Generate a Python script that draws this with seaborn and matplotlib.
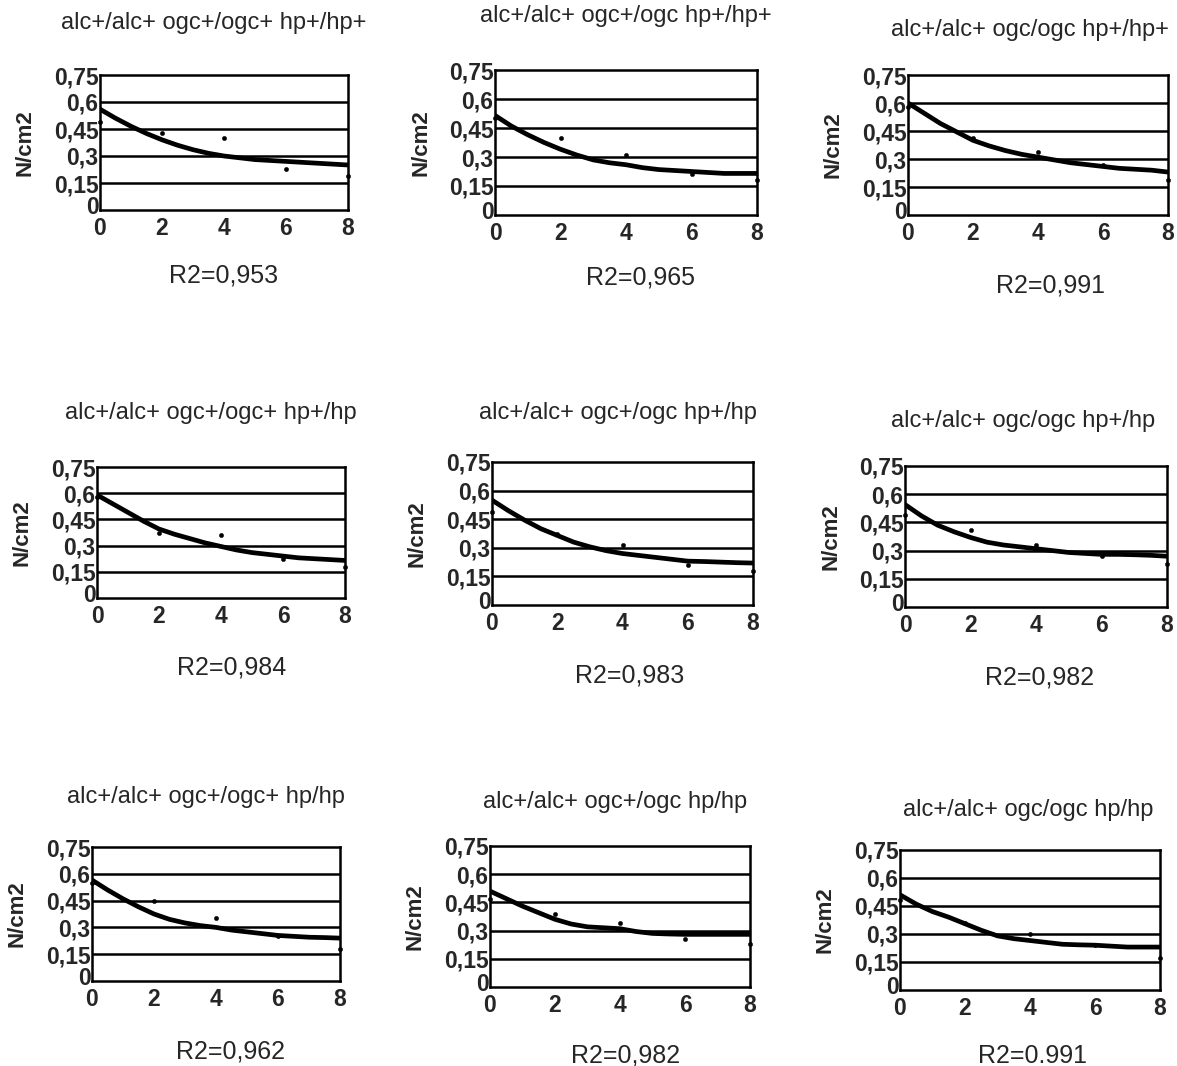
import matplotlib
matplotlib.use("Agg")
import matplotlib.pyplot as plt
import matplotlib.transforms as mtransforms
import seaborn as sns
import pandas as pd

sns.set_style("white")
plt.rcParams['font.family'] = ['Liberation Sans', 'DejaVu Sans']

# ---------------- data ----------------
titles = [
    "alc+/alc+ ogc+/ogc+ hp+/hp+", "alc+/alc+ ogc+/ogc hp+/hp+", "alc+/alc+ ogc/ogc hp+/hp+",
    "alc+/alc+ ogc+/ogc+ hp+/hp", "alc+/alc+ ogc+/ogc hp+/hp", "alc+/alc+ ogc/ogc hp+/hp",
    "alc+/alc+ ogc+/ogc+ hp/hp", "alc+/alc+ ogc+/ogc hp/hp", "alc+/alc+ ogc/ogc hp/hp",
]
r2_labels = ["R2=0,953", "R2=0,965", "R2=0,991",
             "R2=0,984", "R2=0,983", "R2=0,982",
             "R2=0,962", "R2=0,982", "R2=0.991"]

x_points = [0, 2, 4, 6, 8]
points = [
    [0.49, 0.43, 0.40, 0.23, 0.19],
    [0.50, 0.40, 0.31, 0.21, 0.18],
    [0.58, 0.41, 0.34, 0.27, 0.19],
    [0.58, 0.37, 0.36, 0.225, 0.18],
    [0.49, 0.375, 0.315, 0.21, 0.18],
    [0.49, 0.41, 0.33, 0.27, 0.23],
    [0.55, 0.45, 0.35, 0.25, 0.18],
    [0.47, 0.39, 0.34, 0.255, 0.23],
    [0.48, 0.36, 0.30, 0.24, 0.17],
]

# fitted curves, read every 0.5 on the x axis
x_curve = [0, 0.5, 1, 1.5, 2, 2.5, 3, 3.5, 4, 4.5, 5, 5.5, 6, 6.5, 7, 7.5, 8]
curves = [
    [0.56, 0.51, 0.465, 0.425, 0.39, 0.36, 0.335, 0.315, 0.30, 0.29, 0.28, 0.275, 0.27, 0.265, 0.26, 0.255, 0.25],
    [0.515, 0.46, 0.415, 0.375, 0.34, 0.31, 0.285, 0.27, 0.26, 0.245, 0.235, 0.23, 0.225, 0.22, 0.215, 0.215, 0.215],
    [0.60, 0.545, 0.49, 0.445, 0.40, 0.37, 0.345, 0.325, 0.31, 0.295, 0.28, 0.27, 0.26, 0.25, 0.245, 0.24, 0.23],
    [0.59, 0.54, 0.49, 0.44, 0.395, 0.365, 0.34, 0.315, 0.295, 0.275, 0.26, 0.25, 0.24, 0.23, 0.225, 0.22, 0.215],
    [0.55, 0.495, 0.445, 0.40, 0.365, 0.33, 0.305, 0.285, 0.27, 0.26, 0.25, 0.24, 0.23, 0.228, 0.225, 0.222, 0.22],
    [0.545, 0.485, 0.435, 0.40, 0.37, 0.345, 0.33, 0.32, 0.31, 0.30, 0.29, 0.285, 0.28, 0.28, 0.278, 0.275, 0.27],
    [0.565, 0.51, 0.46, 0.415, 0.375, 0.345, 0.325, 0.31, 0.30, 0.285, 0.275, 0.265, 0.255, 0.25, 0.245, 0.243, 0.24],
    [0.51, 0.47, 0.43, 0.395, 0.36, 0.335, 0.32, 0.315, 0.31, 0.295, 0.285, 0.282, 0.28, 0.28, 0.28, 0.28, 0.28],
    [0.51, 0.46, 0.42, 0.39, 0.355, 0.32, 0.29, 0.275, 0.265, 0.255, 0.245, 0.242, 0.24, 0.235, 0.23, 0.23, 0.23],
]

y_ticks = [0, 0.15, 0.3, 0.45, 0.6, 0.75]
y_tick_labels = ["0", "0,15", "0,3", "0,45", "0,6", "0,75"]
x_ticks = [0, 2, 4, 6, 8]
x_tick_labels = ["0", "2", "4", "6", "8"]
y_label = "N/cm2"

# ---------------- layout (pixels) ----------------
W, H = 1177, 1066
axes_px = [  # left, top, right, bottom
    (100, 75, 348, 210), (495, 70, 757, 215), (908, 75, 1168, 215),
    (97, 467, 345, 598), (492, 462, 753, 605), (905, 466, 1167, 607),
    (92, 847, 340, 981), (490, 846, 750, 987), (900, 850, 1160, 990),
]
title_px = [(214, 23), (626, 16), (1030, 30),
            (211, 413), (618, 413), (1023, 421),
            (206, 797), (615, 802), (1028, 810)]
r2_px = [(224, 275), (640, 277), (1050, 285),
         (232, 667), (630, 675), (1040, 677),
         (230, 1051), (626, 1055), (1033, 1056)]

fig = plt.figure(figsize=(W / 100, H / 100), dpi=100)
fig.patch.set_facecolor("white")

for i in range(9):
    l, t, r, b = axes_px[i]
    ax = fig.add_axes([l / W, 1 - b / H, (r - l) / W, (b - t) / H])
    df_c = pd.DataFrame({"x": x_curve, "y": curves[i]})
    df_p = pd.DataFrame({"x": x_points, "y": points[i]})
    for yv in y_ticks[1:-1]:
        ax.axhline(yv, color="black", lw=1.8, zorder=1)
    sns.lineplot(data=df_c, x="x", y="y", ax=ax, color="black", lw=3.4, zorder=3,
                 solid_joinstyle="round", solid_capstyle="round")
    sns.scatterplot(data=df_p, x="x", y="y", ax=ax, color="black", s=10,
                    marker="o", edgecolor="black", zorder=4, clip_on=False)
    ax.set_xlim(0, 8)
    ax.set_ylim(0, 0.75)
    ax.set_xticks(x_ticks)
    ax.set_xticklabels(x_tick_labels, fontsize=16.5, fontweight="bold")
    ax.set_yticks(y_ticks)
    ax.set_yticklabels(y_tick_labels, fontsize=16.5, fontweight="bold")
    ax.tick_params(axis="both", length=0)
    ax.tick_params(axis="y", pad=1)
    ax.tick_params(axis="x", pad=5)
    # lift the y "0" slightly so it does not collide with the x "0"
    zero_lbl = ax.get_yticklabels()[0]
    zero_lbl.set_transform(zero_lbl.get_transform() +
                           mtransforms.ScaledTranslation(0, 5 / 100, fig.dpi_scale_trans))
    ax.set_xlabel("")
    ax.set_ylabel(y_label, fontsize=16, fontweight="bold")
    ax.yaxis.set_label_coords(-64 / (r - l), 0.5)
    for sp in ax.spines.values():
        sp.set_color("black")
        sp.set_linewidth(1.8)
        sp.set_visible(True)
    ax.grid(False)
    tx, ty = title_px[i]
    fig.text(tx / W, 1 - ty / H, titles[i], ha="center", va="center", fontsize=17)
    rx, ry = r2_px[i]
    fig.text(rx / W, 1 - ry / H, r2_labels[i], ha="center", va="center", fontsize=18)

fig.savefig("out.png", dpi=100, facecolor="white")
